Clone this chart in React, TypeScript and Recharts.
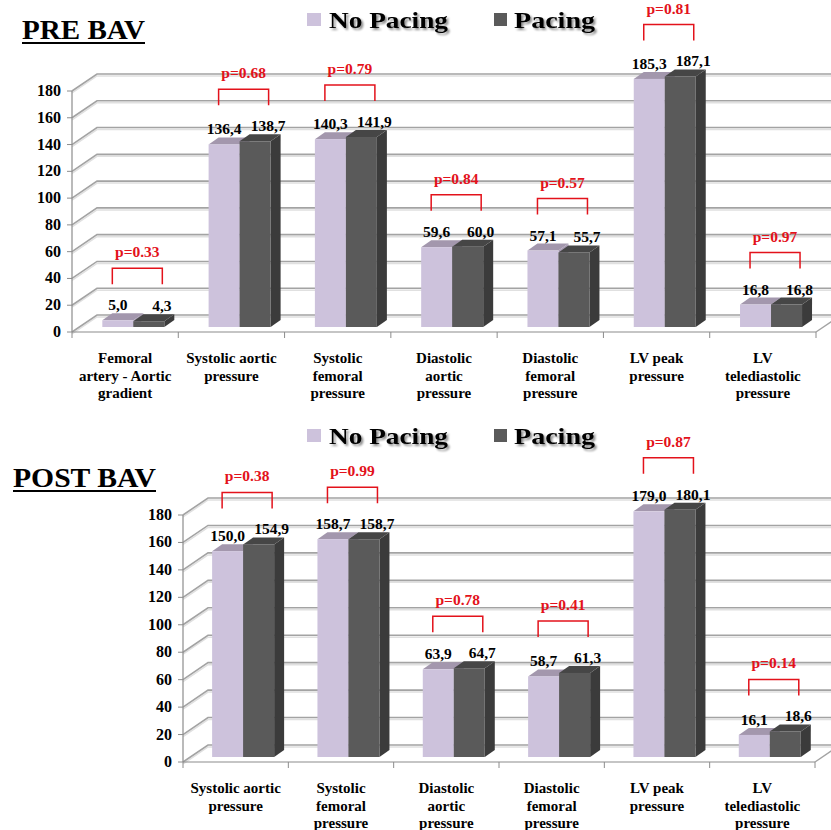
import React from 'react';
import { BarChart, Bar, XAxis, YAxis, CartesianGrid, LabelList, Legend } from 'recharts';

// ---- data ----
const preCategories = [
  'Femoral\nartery - Aortic\ngradient',
  'Systolic aortic\npressure',
  'Systolic\nfemoral\npressure',
  'Diastolic\naortic\npressure',
  'Diastolic\nfemoral\npressure',
  'LV peak\npressure',
  'LV\ntelediastolic\npressure',
];
const preNoPacing = [5.0, 136.4, 140.3, 59.6, 57.1, 185.3, 16.8];
const prePacing = [4.3, 138.7, 141.9, 60.0, 55.7, 187.1, 16.8];
const prePValues = ['0.33', '0.68', '0.79', '0.84', '0.57', '0.81', '0.97'];

const postCategories = [
  'Systolic aortic\npressure',
  'Systolic\nfemoral\npressure',
  'Diastolic\naortic\npressure',
  'Diastolic\nfemoral\npressure',
  'LV peak\npressure',
  'LV\ntelediastolic\npressure',
];
const postNoPacing = [150.0, 158.7, 63.9, 58.7, 179.0, 16.1];
const postPacing = [154.9, 158.7, 64.7, 61.3, 180.1, 18.6];
const postPValues = ['0.38', '0.99', '0.78', '0.41', '0.87', '0.14'];

const yTicks = [0, 20, 40, 60, 80, 100, 120, 140, 160, 180];
const Y_DOMAIN_MAX = 200; // head room above the last tick for the tallest boxes
const seriesNames = ['No Pacing', 'Pacing'];

// ---- styling ----
const FONT = "'Liberation Serif', 'Times New Roman', serif";
const LIGHT = { front: '#cdc2dc', top: '#a397ad', side: '#a89cb3' };
const DARK = { front: '#5a5a5a', top: '#464646', side: '#3b3b3b' };
const AXIS = '#8c8c8c';
const GRID = '#a3a3a3';
const RED = '#e3121b';
const Y_AXIS_W = 60;
const X_AXIS_H = 40;
const BOX_DX = 10; // depth of each 3D box
const BOX_DY = -7;
const WALL_DX = 25; // depth of the back wall
const WALL_DY = -17;

type Frame = {
  width: number;
  height: number;
  left: number;
  right: number;
  yTop: number; // pixel row of the last tick
  bottom: number;
  shiftX: number;
  shiftY: number;
  legendY: number;
  title: string;
  titleX: number;
  titleY: number;
  titleW: number;
};

type Row = { name: string; noPacing: number; pacing: number; p: string };

const fmt = (v: number) => v.toFixed(1).replace('.', ',');
const lastTick = yTicks[yTicks.length - 1];

const makeBox = (c: { front: string; top: string; side: string }, f: Frame) => (props: any) => {
  const { x, y, width, height } = props;
  if (width == null || height == null) return null;
  const X = x + f.shiftX;
  const Y = y + f.shiftY;
  const w = width;
  const h = height;
  return (
    <g>
      <polygon
        points={`${X + w},${Y} ${X + w + BOX_DX},${Y + BOX_DY} ${X + w + BOX_DX},${Y + h + BOX_DY} ${X + w},${Y + h}`}
        fill={c.side}
      />
      <polygon
        points={`${X},${Y} ${X + BOX_DX},${Y + BOX_DY} ${X + w + BOX_DX},${Y + BOX_DY} ${X + w},${Y}`}
        fill={c.top}
      />
      <rect x={X} y={Y} width={w} height={h} fill={c.front} />
    </g>
  );
};

const vbOf = (props: any) => props.viewBox ?? props;

const valueLabel = (f: Frame, extraX: number) => (props: any) => {
  const { x, y, width } = vbOf(props);
  if (x == null) return null;
  return (
    <text
      x={x + width / 2 + f.shiftX + extraX}
      y={y + f.shiftY - 10}
      textAnchor="middle"
      fontFamily={FONT}
      fontWeight="bold"
      fontSize={15.5}
      fill="#000"
    >
      {fmt(Number(props.value))}
    </text>
  );
};

const pBracket = (f: Frame, rows: Row[]) => (props: any) => {
  const { x, y, height } = vbOf(props);
  const row = rows[props.index];
  if (x == null || !row) return null;
  const ppu = height / row.pacing;
  const base = y + height;
  const topMax = base - Math.max(row.noPacing, row.pacing) * ppu + f.shiftY;
  const bt = topMax - 52;
  const cx = x + f.shiftX + 4;
  return (
    <g>
      <path
        d={`M${cx - 25},${bt + 16} V${bt} H${cx + 25} V${bt + 16}`}
        fill="none"
        stroke={RED}
        strokeWidth={1.5}
      />
      <text
        x={cx}
        y={bt - 11}
        textAnchor="middle"
        fontFamily={FONT}
        fontWeight="bold"
        fontSize={15.5}
        fill={RED}
      >
        {`p=${row.p}`}
      </text>
    </g>
  );
};

// Back wall: each tick line runs from the front axis diagonally into depth, then across.
const gridLine = (f: Frame) => (props: any) => {
  const y = props.y1;
  if (y < f.yTop - 1) return <g key={`wall-${props.index}`} />;
  const x1 = f.left;
  const bx = x1 + WALL_DX;
  const by = y + WALL_DY;
  const isFloor = Math.abs(y - f.bottom) < 1;
  return (
    <g key={`wall-${props.index}`}>
      <polyline
        points={`${x1},${y + 2} ${bx},${by + 2} ${f.width},${by + 2}`}
        fill="none"
        stroke="#e0e0e0"
        strokeWidth={1.5}
      />
      <polyline
        points={`${x1},${y} ${bx},${by} ${f.width},${by}`}
        fill="none"
        stroke={GRID}
        strokeWidth={1.6}
      />
      {isFloor && (
        <line x1={f.right} y1={y} x2={f.right + WALL_DX} y2={by} stroke={GRID} strokeWidth={1.5} />
      )}
    </g>
  );
};

const yTick = (f: Frame) => (props: any) => {
  const { y, payload } = props;
  return (
    <g>
      {payload.value === lastTick && (
        <line x1={f.left} x2={f.left} y1={y} y2={f.bottom} stroke={AXIS} strokeWidth={1.2} />
      )}
      <line x1={f.left - 5} x2={f.left} y1={y} y2={y} stroke={AXIS} />
      <text
        x={f.left - 11}
        y={y + 5}
        textAnchor="end"
        fontFamily={FONT}
        fontWeight="bold"
        fontSize={16}
        fill="#000"
      >
        {payload.value}
      </text>
    </g>
  );
};

const xTick = (f: Frame, n: number) => (props: any) => {
  const { x, payload, index } = props;
  const band = (f.right - f.left) / n;
  const lines = String(payload.value).split('\n');
  return (
    <g>
      <line x1={x - band / 2} x2={x - band / 2} y1={f.bottom} y2={f.bottom + 6} stroke={AXIS} />
      {index === n - 1 && (
        <line x1={x + band / 2} x2={x + band / 2} y1={f.bottom} y2={f.bottom + 6} stroke={AXIS} />
      )}
      <text textAnchor="middle" fontFamily={FONT} fontWeight="bold" fontSize={15} fill="#000">
        {lines.map((l, k) => (
          <tspan key={k} x={x} y={f.bottom + 31 + k * 17.5}>
            {l}
          </tspan>
        ))}
      </text>
    </g>
  );
};

const legendContent = (f: Frame) => () => (
  <svg width={f.width} height={50} style={{ display: 'block', overflow: 'visible' }}>
    <defs>
      <filter id={`shade-${f.legendY}`} x="-10%" y="-40%" width="125%" height="190%">
        <feGaussianBlur in="SourceAlpha" stdDeviation="1.2" result="blur" />
        <feOffset in="blur" dx="2" dy="2" result="moved" />
        <feComponentTransfer in="moved" result="faded">
          <feFuncA type="linear" slope="0.45" />
        </feComponentTransfer>
        <feMerge>
          <feMergeNode in="faded" />
          <feMergeNode in="SourceGraphic" />
        </feMerge>
      </filter>
    </defs>
    <rect x={307} y={f.legendY} width={14} height={13} fill={LIGHT.front} />
    <rect x={494} y={f.legendY} width={13} height={13} fill={DARK.front} />
    {[
      { text: seriesNames[0], x: 329, len: 119 },
      { text: seriesNames[1], x: 514, len: 81 },
    ].map((t) => (
      <text
        key={t.text}
        x={t.x}
        y={f.legendY + 15}
        textLength={t.len}
        lengthAdjust="spacingAndGlyphs"
        fontFamily={FONT}
        fontWeight="bold"
        fontSize={24}
        fill="#000"
        filter={`url(#shade-${f.legendY})`}
      >
        {t.text}
      </text>
    ))}
  </svg>
);

const Panel = ({ f, categories, noPacing, pacing, pValues, top }: any) => {
  const rows: Row[] = categories.map((name: string, i: number) => ({
    name,
    noPacing: noPacing[i],
    pacing: pacing[i],
    p: pValues[i],
  }));
  const n = rows.length;
  const plotTop = f.bottom - ((f.bottom - f.yTop) * Y_DOMAIN_MAX) / lastTick;
  return (
    <div style={{ position: 'absolute', left: 0, top, width: f.width, height: f.height }}>
      <BarChart
        width={f.width}
        height={f.height}
        data={rows}
        barCategoryGap="21%"
        barGap={0}
        margin={{
          top: plotTop,
          right: f.width - f.right,
          bottom: f.height - f.bottom - X_AXIS_H,
          left: f.left - Y_AXIS_W,
        }}
      >
        <CartesianGrid horizontal={gridLine(f)} vertical={false} />
        <XAxis
          dataKey="name"
          height={X_AXIS_H}
          interval={0}
          axisLine={{ stroke: AXIS, strokeWidth: 1.2 }}
          tickLine={false}
          tick={xTick(f, n)}
        />
        <YAxis
          width={Y_AXIS_W}
          domain={[0, Y_DOMAIN_MAX]}
          ticks={yTicks}
          interval={0}
          axisLine={false}
          tickLine={false}
          tick={yTick(f)}
        />
        <Legend
          layout="horizontal"
          verticalAlign="middle"
          align="center"
          content={legendContent(f)}
          wrapperStyle={{ position: 'absolute', left: 0, top: 0, width: f.width, height: 0, overflow: 'visible' }}
        />
        <Bar dataKey="noPacing" name={seriesNames[0]} shape={makeBox(LIGHT, f)} isAnimationActive={false}>
          <LabelList dataKey="noPacing" content={valueLabel(f, 0)} />
        </Bar>
        <Bar dataKey="pacing" name={seriesNames[1]} shape={makeBox(DARK, f)} isAnimationActive={false}>
          <LabelList dataKey="pacing" content={valueLabel(f, 13)} />
          <LabelList dataKey="p" content={pBracket(f, rows)} />
        </Bar>
      </BarChart>
      <svg
        width={f.width}
        height={60}
        style={{ position: 'absolute', left: 0, top: 0, pointerEvents: 'none', overflow: 'visible' }}
      >
        <text
          x={f.titleX}
          y={f.titleY}
          textLength={f.titleW}
          lengthAdjust="spacingAndGlyphs"
          fontFamily={FONT}
          fontWeight="bold"
          fontSize={28}
          fill="#000"
        >
          {f.title}
        </text>
        <line
          x1={f.titleX}
          x2={f.titleX + f.titleW}
          y1={f.titleY + 4}
          y2={f.titleY + 4}
          stroke="#000"
          strokeWidth={2}
        />
      </svg>
    </div>
  );
};

const PRE: Frame = {
  width: 831,
  height: 410,
  left: 72,
  right: 816,
  yTop: 91,
  bottom: 332,
  shiftX: 8,
  shiftY: -5,
  legendY: 13,
  title: 'PRE BAV',
  titleX: 22,
  titleY: 39,
  titleW: 123,
};

const POST: Frame = {
  width: 831,
  height: 420,
  left: 183,
  right: 815,
  yTop: 105,
  bottom: 352,
  shiftX: 7,
  shiftY: -5,
  legendY: 19,
  title: 'POST BAV',
  titleX: 13,
  titleY: 77,
  titleW: 143,
};

export default function App() {
  return (
    <div style={{ position: 'absolute', left: 0, top: 0, width: 831, height: 830, background: '#fff', overflow: 'hidden' }}>
      <Panel f={PRE} categories={preCategories} noPacing={preNoPacing} pacing={prePacing} pValues={prePValues} top={0} />
      <Panel f={POST} categories={postCategories} noPacing={postNoPacing} pacing={postPacing} pValues={postPValues} top={410} />
    </div>
  );
}
